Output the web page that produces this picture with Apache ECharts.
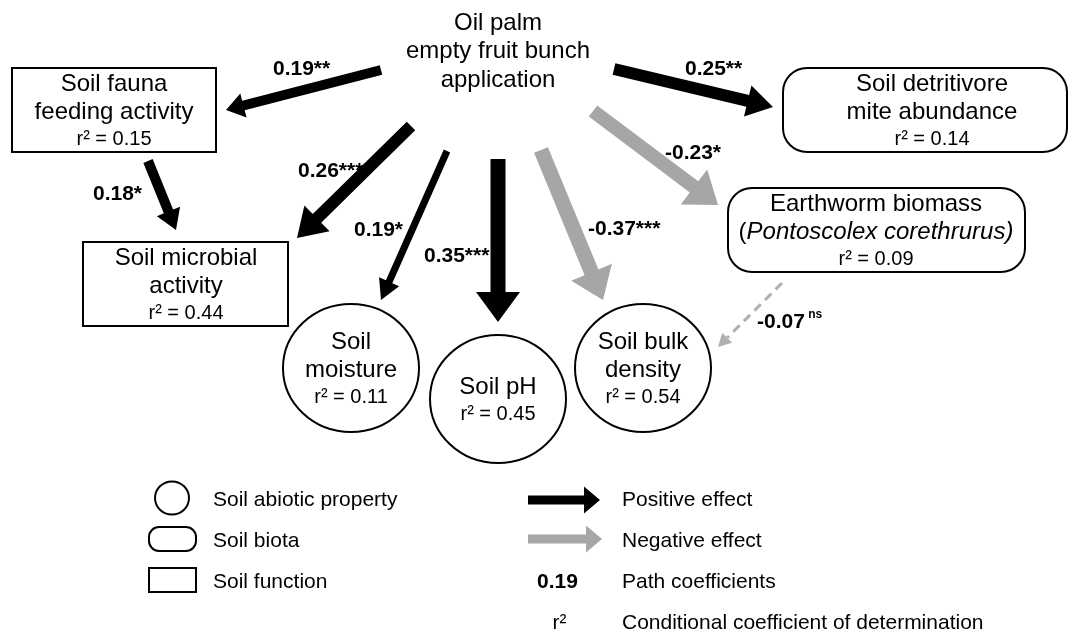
<!DOCTYPE html>
<html><head><meta charset="utf-8">
<script src="https://cdn.jsdelivr.net/npm/echarts@6/dist/echarts.min.js"></script>
<style>html,body{margin:0;padding:0;background:#fff}#c{width:1070px;height:633px}</style>
</head><body><div id="c"></div>
<script>
// ---------- DATA ----------
const nodeIds = ['efb','fauna','microbial','moisture','ph','bulk','earthworm','mite'];
const nodeLines = [
  ['Oil palm','empty fruit bunch','application'],
  ['Soil fauna','feeding activity'],
  ['Soil microbial','activity'],
  ['Soil','moisture'],
  ['Soil pH'],
  ['Soil bulk','density'],
  ['Earthworm biomass','{n|(}{i|Pontoscolex corethrurus)}'],
  ['Soil detritivore','mite abundance']
];
const nodeR2 = [null, 0.15, 0.44, 0.11, 0.45, 0.54, 0.09, 0.14];
const nodeKind = ['treatment','function','function','abiotic','abiotic','abiotic','biota','biota'];

const pathFrom = ['efb','fauna','efb','efb','efb','efb','efb','efb','earthworm'];
const pathTo   = ['fauna','microbial','microbial','moisture','ph','bulk','earthworm','mite','bulk'];
const pathCoef = [0.19, 0.18, 0.26, 0.19, 0.35, -0.37, -0.23, 0.25, -0.07];
const pathSig  = ['**','*','***','*','***','***','*','**','ns'];

const legendShapeKinds = ['abiotic','biota','function'];
const legendShapeLabels = ['Soil abiotic property','Soil biota','Soil function'];
const legendArrowLabels = ['Positive effect','Negative effect'];
const legendSymbolLabels = ['Path coefficients','Conditional coefficient of determination'];
const legendSymbols = ['0.19','r\u00b2'];

// ---------- LAYOUT (diagram coordinates) ----------
// node: centre x, centre y, width, height, text centre x
const nodeBox = {
  efb:[498,51.5,0,0,498], fauna:[114,110,204,84,114], microbial:[185.5,284,205,84,186],
  moisture:[351,368,136,128,351], ph:[498,399,136,128,498], bulk:[643,368,136,128,643],
  earthworm:[876.5,230,297,84,876], mite:[925,110,284,84,932]
};
// path: start x,y, tip x,y, shaft width, head width, head length
const pathGeom = [
  [381,70,226,110,10,25,18],
  [148,161,176,230,10,25,20],
  [411,126,297,238,12,36,28],
  [447,151,381,300,7,22,20],
  [498,159,498,322,15,44,30],
  [541,150,603,300,15,44,30],
  [593,111,718,205,14,44,30],
  [614,69,773,107,12,32,26],
  [782,283,718,347,3,14,13]
];
const pathLabelPos = [[273,69],[93,194],[298,171],[354,230],[424,256],[588,229],[665,153],[685,69],[757,321]];
const legendShapePos = [[172,498],[172.5,539],[172.5,580]];
const legendArrowPos = [[528,600,500],[528,602,539]];
const legendRowY = [500,541,582,623];

const FONT = "'Liberation Sans', Arial, Helvetica, sans-serif";
const BLACK = '#000', GREY = '#a6a6a6', GREY_NS = '#b0b0b0';

function arrowPoly(S,T,w,hw,hl){
  const dx=T[0]-S[0], dy=T[1]-S[1], L=Math.hypot(dx,dy), ux=dx/L, uy=dy/L, nx=-uy, ny=ux;
  const Bx=T[0]-ux*hl, By=T[1]-uy*hl;
  return [[S[0]+nx*w/2,S[1]+ny*w/2],[Bx+nx*w/2,By+ny*w/2],[Bx+nx*hw/2,By+ny*hw/2],[T[0],T[1]],
          [Bx-nx*hw/2,By-ny*hw/2],[Bx-nx*w/2,By-ny*w/2],[S[0]-nx*w/2,S[1]-ny*w/2]];
}

function shapeEl(kind, c, w, h){
  const st = {stroke:'#000', lineWidth:2, fill:'#fff'};
  if(kind==='function') return {type:'rect', shape:{x:c[0]-w/2,y:c[1]-h/2,width:w,height:h}, style:st};
  if(kind==='biota') return {type:'rect', shape:{x:c[0]-w/2,y:c[1]-h/2,width:w,height:h,r:Math.min(24,h/2.4)}, style:st};
  if(kind==='abiotic') return {type:'ellipse', shape:{cx:c[0],cy:c[1],rx:w/2,ry:h/2}, style:st};
  return null;
}

function renderNode(params, api){
  const i = api.value(2), id = nodeIds[i], b = nodeBox[id];
  const c = api.coord([b[0], b[1]]);
  const sz = api.size([b[2], b[3]]);
  const children = [];
  const sh = shapeEl(nodeKind[i], c, Math.abs(sz[0]), Math.abs(sz[1]));
  if(sh) children.push(sh);
  const lines = nodeLines[i].slice();
  const hasR2 = nodeR2[i] !== null;
  const n = lines.length + (hasR2 ? 1 : 0);
  const tx = api.coord([b[4], b[1]])[0];
  const step = hasR2 ? 27.5 : 28.5;
  const y0 = c[1] + (hasR2 ? 2 : 0) - (n-1)*step/2;
  lines.forEach((t, k) => {
    children.push({type:'text', x:tx, y:y0+k*step, style:{
      text:t, font:'24px '+FONT, fill:'#000', align:'center', verticalAlign:'middle',
      rich:{n:{font:'24px '+FONT, fill:'#000'}, i:{font:'italic 24px '+FONT, fill:'#000'}}
    }});
  });
  if(hasR2){
    children.push({type:'text', x:tx, y:y0+(n-1)*step, style:{
      text:'r\u00b2 = '+nodeR2[i].toFixed(2), font:'20px '+FONT, fill:'#000', align:'center', verticalAlign:'middle'}});
  }
  return {type:'group', children};
}

function renderPath(params, api){
  const i = api.value(2), g = pathGeom[i];
  const S = api.coord([g[0], g[1]]), T = api.coord([g[2], g[3]]);
  const ns = pathSig[i] === 'ns';
  const col = ns ? GREY_NS : (pathCoef[i] > 0 ? BLACK : GREY);
  if(!ns){
    return {type:'polygon', shape:{points:arrowPoly(S,T,g[4],g[5],g[6])}, style:{fill:col}};
  }
  const dx=T[0]-S[0], dy=T[1]-S[1], L=Math.hypot(dx,dy), ux=dx/L, uy=dy/L;
  const B=[T[0]-ux*g[6], T[1]-uy*g[6]];
  return {type:'group', children:[
    {type:'line', shape:{x1:S[0],y1:S[1],x2:B[0],y2:B[1]}, style:{stroke:col, lineWidth:g[4], lineDash:[9,6]}},
    {type:'polygon', shape:{points:arrowPoly(B,T,0.1,g[5],g[6])}, style:{fill:col}}
  ]};
}

function renderPathLabel(params, api){
  const i = api.value(2), p = pathLabelPos[i];
  const c = api.coord(p);
  const ns = pathSig[i] === 'ns';
  const val = pathCoef[i].toFixed(2);
  if(!ns){
    return {type:'text', x:c[0], y:c[1], style:{
      text: val + pathSig[i], font:'bold 21px '+FONT, fill:'#000', align:'left', verticalAlign:'middle'}};
  }
  return {type:'text', x:c[0], y:c[1], style:{
    text:'{v|'+val+'}{ns| ns}', align:'left', verticalAlign:'middle', fill:'#000',
    rich:{
      v:{font:'bold 21px '+FONT, fill:'#000', lineHeight:24, verticalAlign:'bottom'},
      ns:{font:'bold 12px '+FONT, fill:'#000', lineHeight:13, verticalAlign:'top'}
    }
  }};
}

function renderLegend(params, api){
  const children = [];
  legendShapeKinds.forEach((k, j) => {
    const c = api.coord(legendShapePos[j]);
    const w = k==='abiotic' ? 34 : 47, h = k==='abiotic' ? 33 : 24;
    const el = shapeEl(k, c, w, h);
    if(k==='biota') el.shape.r = 10;
    children.push(el);
    const t = api.coord([213, legendRowY[j]]);
    children.push({type:'text', x:t[0], y:t[1], style:{text:legendShapeLabels[j], font:'21px '+FONT, fill:'#000', align:'left', verticalAlign:'middle'}});
  });
  legendArrowLabels.forEach((lab, j) => {
    const a = legendArrowPos[j];
    const S = api.coord([a[0], a[2]]), T = api.coord([a[1], a[2]]);
    children.push({type:'polygon', shape:{points:arrowPoly(S,T,9,27,16)}, style:{fill: j===0 ? BLACK : GREY}});
    const t = api.coord([622, legendRowY[j]]);
    children.push({type:'text', x:t[0], y:t[1], style:{text:lab, font:'21px '+FONT, fill:'#000', align:'left', verticalAlign:'middle'}});
  });
  legendSymbolLabels.forEach((lab, j) => {
    const y = legendRowY[j+2];
    const s = api.coord([j===0 ? 557.5 : 559.5, y]);
    children.push({type:'text', x:s[0], y:s[1], style:{text:legendSymbols[j], font:(j===0?'bold ':'')+'21px '+FONT, fill:'#000', align:'center', verticalAlign:'middle'}});
    const t = api.coord([622, y]);
    children.push({type:'text', x:t[0], y:t[1], style:{text:lab, font:'21px '+FONT, fill:'#000', align:'left', verticalAlign:'middle'}});
  });
  return {type:'group', children};
}

const chart = echarts.init(document.getElementById('c'), null, {renderer:'canvas'});
chart.setOption({
  animation:false,
  backgroundColor:'#fff',
  grid:{left:0, right:0, top:0, bottom:0},
  xAxis:{type:'value', min:0, max:1070, show:false},
  yAxis:{type:'value', min:0, max:633, inverse:true, show:false},
  series:[
    {type:'custom', coordinateSystem:'cartesian2d', clip:false, renderItem:renderNode,
     encode:{x:0,y:1}, data:nodeIds.map((id,i)=>[nodeBox[id][0], nodeBox[id][1], i]), z:1},
    {type:'custom', coordinateSystem:'cartesian2d', clip:false, renderItem:renderPath,
     encode:{x:0,y:1}, data:pathCoef.map((v,i)=>[pathGeom[i][0], pathGeom[i][1], i]), z:2},
    {type:'custom', coordinateSystem:'cartesian2d', clip:false, renderItem:renderPathLabel,
     encode:{x:0,y:1}, data:pathCoef.map((v,i)=>[pathLabelPos[i][0], pathLabelPos[i][1], i]), z:3},
    {type:'custom', coordinateSystem:'cartesian2d', clip:false, renderItem:renderLegend,
     encode:{x:0,y:1}, data:[[0,0,0]], z:3}
  ]
});
</script></body></html>
